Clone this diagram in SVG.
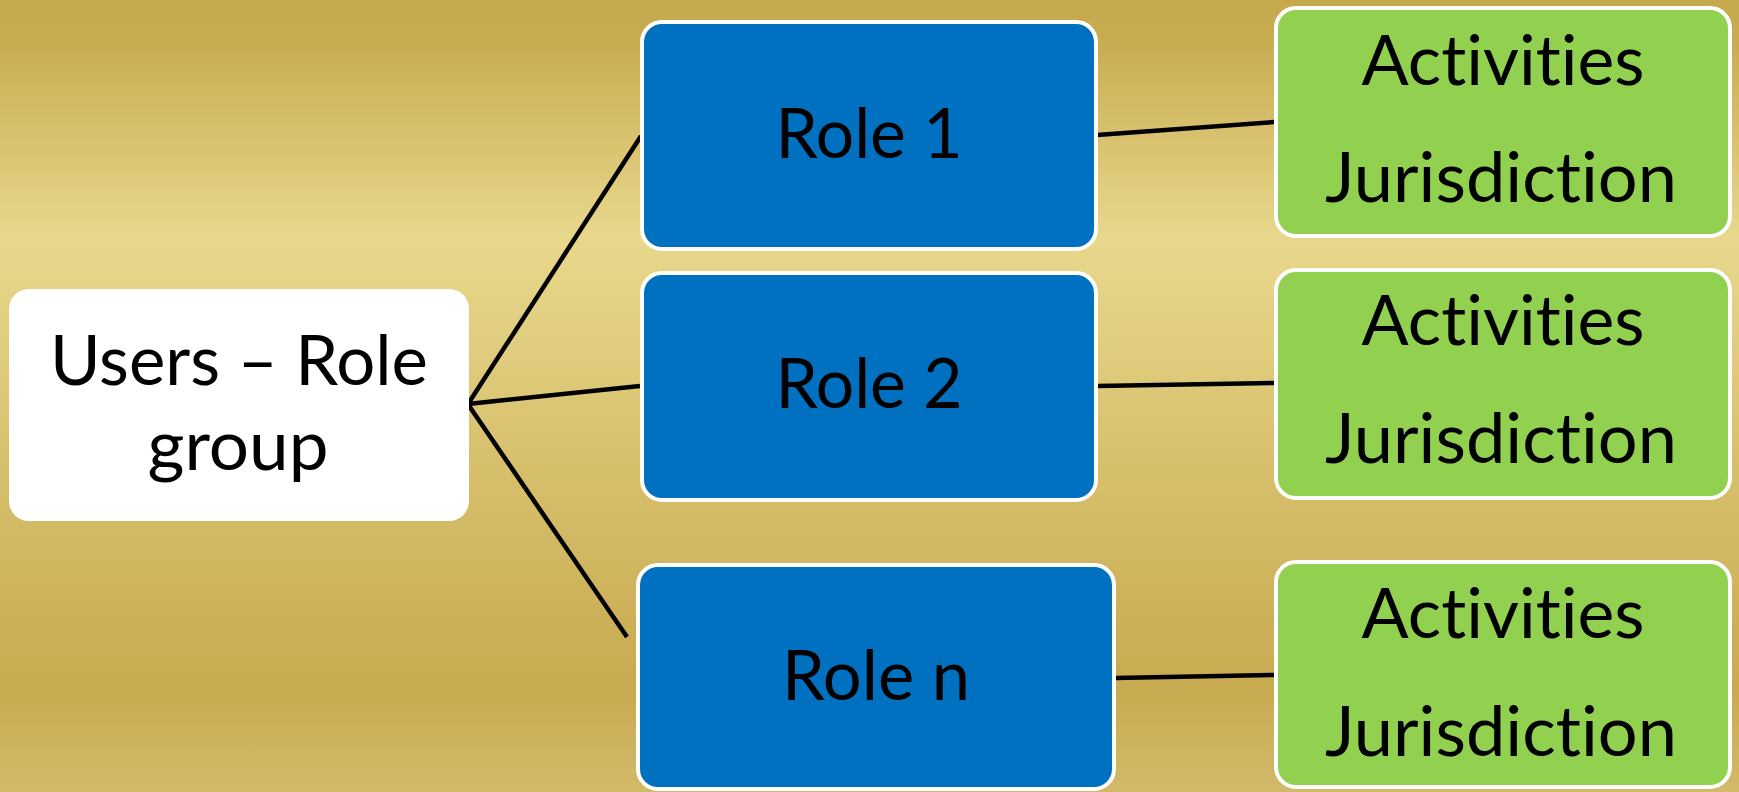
<svg xmlns="http://www.w3.org/2000/svg" width="1739" height="792" viewBox="0 0 1739 792">
  <defs>
    <linearGradient id="bg" x1="0" y1="0" x2="0" y2="1">
      <stop offset="0" stop-color="#c6a94d"/>
      <stop offset="0.05" stop-color="#c8ac52"/>
      <stop offset="0.30" stop-color="#e8d88c"/>
      <stop offset="0.62" stop-color="#d5bd69"/>
      <stop offset="0.87" stop-color="#c8aa50"/>
      <stop offset="1" stop-color="#d2ba6a"/>
    </linearGradient>
    <style>
      .lbl { font-family: Lato, "Open Sans", "Liberation Sans", sans-serif; font-size: 70px; fill: #000; text-anchor: middle; font-variant-ligatures: none; font-feature-settings: "liga" 0, "clig" 0; }
      .root { fill: #ffffff; }
      .role { fill: #0070c0; stroke: #ffffff; stroke-width: 4; }
      .task { fill: #92d050; stroke: #ffffff; stroke-width: 4; }
      .link { stroke: #000; stroke-width: 4.5; fill: none; }
    </style>
  </defs>

  <rect x="0" y="0" width="1739" height="792" fill="url(#bg)"/>

  <g id="connectors">
    <line class="link" x1="468" y1="404" x2="641" y2="136"/>
    <line class="link" x1="468" y1="404" x2="640" y2="386"/>
    <line class="link" x1="463" y1="397" x2="627" y2="637" stroke-width="3.5"/>
    <line class="link" x1="1097" y1="135" x2="1274" y2="122"/>
    <line class="link" x1="1097" y1="386" x2="1274" y2="383"/>
    <line class="link" x1="1115" y1="678" x2="1274" y2="675"/>
  </g>

  <g id="users-role-group">
    <rect class="root" x="9" y="289" width="460" height="232" rx="20"/>
    <text class="lbl" x="239" y="385" textLength="378" lengthAdjust="spacingAndGlyphs">Users – Role</text>
    <text class="lbl" x="238" y="470" textLength="181" lengthAdjust="spacingAndGlyphs">group</text>
  </g>

  <g id="role-1">
    <rect class="role" x="642" y="22" width="454" height="227" rx="20"/>
    <text class="lbl" x="869" y="158" textLength="187" lengthAdjust="spacingAndGlyphs">Role 1</text>
  </g>

  <g id="role-2">
    <rect class="role" x="642" y="273" width="454" height="227" rx="20"/>
    <text class="lbl" x="869" y="408" textLength="187" lengthAdjust="spacingAndGlyphs">Role 2</text>
  </g>

  <g id="role-n">
    <rect class="role" x="638" y="565" width="476" height="224" rx="20"/>
    <text class="lbl" x="876" y="700" textLength="188" lengthAdjust="spacingAndGlyphs">Role n</text>
  </g>

  <g id="scope-1">
    <rect class="task" x="1276" y="8" width="454" height="228" rx="20"/>
    <text class="lbl" x="1503" y="85" textLength="283" lengthAdjust="spacingAndGlyphs">Activities</text>
    <text class="lbl" x="1501" y="202" textLength="352" lengthAdjust="spacingAndGlyphs">Jurisdiction</text>
  </g>

  <g id="scope-2">
    <rect class="task" x="1276" y="270" width="454" height="228" rx="20"/>
    <text class="lbl" x="1503" y="345" textLength="283" lengthAdjust="spacingAndGlyphs">Activities</text>
    <text class="lbl" x="1501" y="463" textLength="352" lengthAdjust="spacingAndGlyphs">Jurisdiction</text>
  </g>

  <g id="scope-n">
    <rect class="task" x="1276" y="562" width="454" height="225" rx="20"/>
    <text class="lbl" x="1503" y="638" textLength="283" lengthAdjust="spacingAndGlyphs">Activities</text>
    <text class="lbl" x="1501" y="756" textLength="352" lengthAdjust="spacingAndGlyphs">Jurisdiction</text>
  </g>
</svg>
